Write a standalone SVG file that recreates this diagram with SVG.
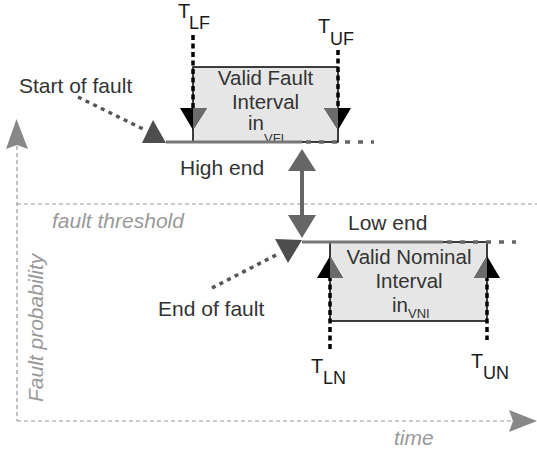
<svg xmlns="http://www.w3.org/2000/svg" width="537" height="450" viewBox="0 0 537 450">
<style>
text{font-family:"Liberation Sans",Arial,sans-serif;fill:#333}
.lbl{font-size:21px}
.box{font-size:20.5px;text-anchor:middle}
.boxs{font-size:20.5px}
.ax{font-size:21px;font-style:italic;fill:#999}
.t{font-size:20px;fill:#1a1a1a}
.ts{font-size:18px;fill:#1a1a1a}
.sub{font-size:13px}
.axis{stroke:#999;stroke-width:1.2;stroke-dasharray:4 3;fill:none}
.tdot{stroke:#000;stroke-width:3.5;stroke-dasharray:5 3.5;fill:none}
.hdot{stroke:#666;stroke-width:3.5;stroke-dasharray:5 8;fill:none}
.pdot{stroke:#555;stroke-width:3.5;stroke-dasharray:4 4.5;fill:none}
.solid{stroke:#777;stroke-width:3;fill:none}
.ivl{fill:#e6e6e6;stroke:#000;stroke-width:1.5}
</style>
<g id="axes">
<line class="axis" x1="17" y1="146" x2="17" y2="421"/>
<polygon points="16.5,119 28,149 17,145 6,149" fill="#888"/>
<line class="axis" x1="17" y1="421" x2="512" y2="421"/>
<polygon points="537,421 509,432 513,421 509,410" fill="#888"/>
<line class="axis" x1="17" y1="204" x2="537" y2="204" stroke-width="1"/>
<text class="ax" x="52" y="228">fault threshold</text>
<text class="ax" x="394" y="445" font-size="20">time</text>
<text class="ax" transform="translate(43,402) rotate(-90)">Fault probability</text>
</g>
<g id="fault-interval">
<rect class="ivl" x="193" y="67" width="145" height="75"/>
<text class="box" x="265.5" y="85">Valid Fault</text>
<text class="box" x="265.5" y="109">Interval</text>
<text class="boxs" x="248" y="130">in<tspan class="sub" dy="13">VFI</tspan></text>
</g>
<g id="nominal-interval">
<rect class="ivl" x="330" y="242" width="157" height="79"/>
<text class="box" x="409" y="264">Valid Nominal</text>
<text class="box" x="409" y="288">Interval</text>
<text class="boxs" x="392" y="312">in<tspan class="sub" dy="6" font-size="12.5">VNI</tspan></text>
</g>
<g id="connectors">
<line class="hdot" x1="306" y1="142" x2="374" y2="142"/>
<line class="solid" x1="166" y1="142" x2="302" y2="142"/>
<line class="hdot" x1="447" y1="242" x2="516" y2="242"/>
<line class="solid" x1="302" y1="242" x2="443" y2="242"/>
<line x1="302" y1="170" x2="302" y2="216" stroke="#666" stroke-width="4"/>
<polygon points="302,149 288,171 316,171" fill="#666"/>
<polygon points="302,238 288,215 316,215" fill="#666"/>
<line class="pdot" x1="78" y1="97" x2="143" y2="129"/>
<polygon points="153,120 166,143 142,143" fill="#4d4d4d"/>
<line class="pdot" x1="212" y1="288" x2="276" y2="255"/>
<polygon points="275,239 302,240 288,263" fill="#4d4d4d"/>
<line class="tdot" x1="193" y1="35" x2="193" y2="110"/>
<polygon points="180,108 207,108 193,130" fill="#000"/>
<polygon points="193,108 207,108 193,130" fill="#6b6b6b"/>
<line class="tdot" x1="338" y1="50" x2="338" y2="110"/>
<polygon points="324,108 351,108 338,130" fill="#000"/>
<polygon points="324,108 338,108 338,130" fill="#6b6b6b"/>
<line class="tdot" x1="330" y1="276" x2="330" y2="352"/>
<polygon points="330,256 317,278 343,278" fill="#000"/>
<polygon points="330,256 343,278 330,278" fill="#6b6b6b"/>
<line class="tdot" x1="487" y1="276" x2="487" y2="340"/>
<polygon points="487,256 474,278 500,278" fill="#000"/>
<polygon points="487,256 474,278 487,278" fill="#6b6b6b"/>
</g>
<g id="labels">
<text class="lbl" x="19" y="93">Start of fault</text>
<text class="lbl" x="180" y="175">High end</text>
<text class="lbl" x="348" y="230">Low end</text>
<text class="lbl" x="158" y="316">End of fault</text>
</g>
<g id="t-lf"><text class="t" x="178" y="18">T</text><text class="ts" x="189" y="29">LF</text></g>
<g id="t-uf"><text class="t" x="318" y="33">T</text><text class="ts" x="330" y="45">UF</text></g>
<g id="t-ln"><text class="t" x="311" y="373">T</text><text class="ts" x="323" y="384">LN</text></g>
<g id="t-un"><text class="t" x="471" y="368">T</text><text class="ts" x="483" y="379">UN</text></g>
</svg>
